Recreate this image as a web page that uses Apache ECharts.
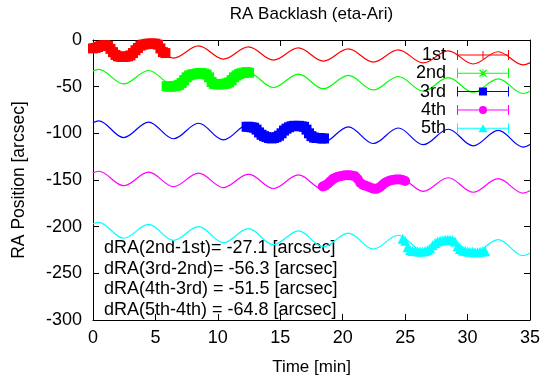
<!DOCTYPE html>
<html><head><meta charset="utf-8">
<script src="https://cdn.jsdelivr.net/npm/echarts@6/dist/echarts.min.js"></script>
<style>html,body{margin:0;padding:0;background:#fff}#c{width:546px;height:385px}</style>
</head><body><div id="c"></div>
<script>
const FONT = '"Liberation Sans", Arial, sans-serif';
const seriesNames = ['1st', '2nd', '3rd', '4th', '5th'];
const seriesColors = ['#ff0000', '#00ff00', '#0000ff', '#ff00ff', '#00ffff'];

// fitted curves: values read at the curve extrema (and the ends)
const fitTimes = [0, 0.45, 2.45, 4.45, 6.45, 8.45, 10.45, 12.45, 14.45, 16.45, 18.45, 20.45, 22.45, 24.45, 26.45, 28.45, 30.45, 32.45, 34.45, 35];
const fit1st = [-5.8, -4.3, -18.4, -5.3, -19.4, -6.4, -20.5, -7.4, -21.5, -8.4, -22.6, -9.5, -23.6, -10.5, -24.6, -11.6, -25.7, -12.6, -26.7, -24.5];
const fit2nd = [-33.1, -31.4, -47.1, -32.7, -48.4, -34.0, -49.6, -35.3, -50.9, -36.6, -52.2, -37.8, -53.5, -39.1, -54.8, -40.4, -56.0, -41.7, -57.3, -54.9];
const fit3rd = [-88.6, -86.6, -104.5, -87.9, -105.8, -89.2, -107.0, -90.5, -108.3, -91.8, -109.6, -93.0, -110.9, -94.3, -112.2, -95.6, -113.4, -96.9, -114.7, -111.9];
const fit4th = [-142.3, -140.6, -156.1, -141.6, -157.1, -142.6, -158.1, -143.6, -159.1, -144.6, -160.1, -145.6, -161.1, -146.6, -162.1, -147.6, -163.1, -148.6, -164.1, -161.6];
const fit5th = [-196.9, -195.3, -212.4, -197.6, -214.7, -199.9, -217.1, -202.2, -219.4, -204.5, -221.7, -206.9, -224.0, -209.2, -226.3, -211.5, -228.7, -213.8, -231.0, -228.5];

// measured points
const t1st = [0, 0.2, 0.4, 0.6, 0.8, 1.0, 1.2, 1.4, 1.6, 1.8, 2.0, 2.2, 2.4, 2.6, 2.8, 3.0, 3.2, 3.4, 3.6, 3.8, 4.0, 4.2, 4.4, 4.6, 4.8, 5.0, 5.2, 5.4, 5.6, 5.8];
const v1st = [-9.0, -8.5, -7.5, -6.5, -5.8, -5.5, -6.5, -9.5, -13, -16, -17.5, -18, -18, -18, -17.5, -16.5, -14, -11, -8.5, -6, -5, -4.5, -4, -3.8, -3.8, -4, -5, -9, -13, -14];
const t2nd = [5.9, 6.1, 6.3, 6.5, 6.7, 6.9, 7.1, 7.3, 7.5, 7.7, 7.9, 8.1, 8.3, 8.5, 8.7, 8.9, 9.1, 9.3, 9.5, 9.7, 9.9, 10.1, 10.3, 10.5, 10.7, 10.9, 11.1, 11.3, 11.5, 11.7, 11.9, 12.1, 12.3, 12.5];
const v2nd = [-49.5, -50, -50, -49.5, -49, -48, -46, -43, -40, -38, -37, -36.5, -36, -35.5, -35.5, -36, -37, -40, -45, -47, -47.5, -47.5, -47.5, -47, -46.5, -45.5, -43, -40, -38, -36.5, -35.5, -35, -34.5, -35];
const t3rd = [12.3, 12.5, 12.7, 12.9, 13.1, 13.3, 13.5, 13.7, 13.9, 14.1, 14.3, 14.5, 14.7, 14.9, 15.1, 15.3, 15.5, 15.7, 15.9, 16.1, 16.3, 16.5, 16.7, 16.9, 17.1, 17.3, 17.5, 17.7, 17.9, 18.1, 18.3, 18.5];
const v3rd = [-93, -93, -93.5, -94, -96, -99, -101.5, -103, -104, -105, -105.5, -105, -104, -102.5, -100, -97, -95, -93.5, -92.5, -92, -92, -92, -92.5, -93, -96, -100, -103, -104.5, -105, -105, -105.5, -105.5];
const t4th = [18.4, 18.6, 18.8, 19.0, 19.2, 19.4, 19.6, 19.8, 20.0, 20.2, 20.4, 20.6, 20.8, 21.0, 21.2, 21.4, 21.6, 21.8, 22.0, 22.2, 22.4, 22.6, 22.8, 23.0, 23.2, 23.4, 23.6, 23.8, 24.0, 24.2, 24.4, 24.6, 24.8, 25.0];
const v4th = [-157, -156, -154, -151.5, -149, -147.5, -146.5, -146, -145.5, -145, -145, -145, -145.5, -146, -149, -153, -155, -156, -157, -158, -159, -159.5, -159, -157.5, -155, -153, -151.5, -150.5, -150, -149.5, -149.5, -149.5, -150, -151];
const t5th = [24.8, 25.0, 25.2, 25.4, 25.6, 25.8, 26.0, 26.2, 26.4, 26.6, 26.8, 27.0, 27.2, 27.4, 27.6, 27.8, 28.0, 28.2, 28.4, 28.6, 28.8, 29.0, 29.2, 29.4, 29.6, 29.8, 30.0, 30.2, 30.4, 30.6, 30.8, 31.0, 31.2, 31.4];
const v5th = [-213, -215, -222, -225, -226, -226, -226.5, -226.5, -226.5, -226, -225, -223, -220, -217.5, -216, -215, -214.5, -214, -214, -214, -214.5, -216, -221, -224, -225.5, -226, -226.5, -227, -227, -227.5, -227.5, -227, -226.5, -226];

const dRALabels = ['dRA(2nd-1st)=', 'dRA(3rd-2nd)=', 'dRA(4th-3rd) =', 'dRA(5th-4th) ='];
const dRAValues = [-27.1, -56.3, -51.5, -64.8];

const fits = [fit1st, fit2nd, fit3rd, fit4th, fit5th];
const times = [t1st, t2nd, t3rd, t4th, t5th];
const vals = [v1st, v2nd, v3rd, v4th, v5th];
const symbols = ['rect', 'rect', 'rect', 'circle', 'triangle'];

const bar = 'M0,0 h1 v10 h-1 Z M51,0 h1 v10 h-1 Z M0,4.5 h52 v1 h-52 Z ';
const legendMarks = [
  'M25.5,1 h1 v8 h-1 Z',
  'M25.5,1 h1 v8 h-1 Z M22,2 L23,1.3 L30,8 L29,8.7 Z M29,1.3 L30,2 L23,8.7 L22,8 Z',
  'M22,1 h8 v8 h-8 Z',
  'M22,5 A4,4 0 1,1 30,5 A4,4 0 1,1 22,5 Z',
  'M26,1 L30.5,9 L21.5,9 Z'
];

const series = [];
for (let i = 0; i < 5; i++) {
  series.push({
    type: 'line', name: 'fit' + i, data: fitTimes.map((t, j) => [t, fits[i][j]]),
    smooth: 0.36, showSymbol: false, symbol: 'none', silent: true,
    lineStyle: { color: seriesColors[i], width: 1.2 }, z: 2, animation: false
  });
}
for (let i = 0; i < 5; i++) {
  series.push({
    type: 'scatter', name: seriesNames[i], data: times[i].map((t, j) => [t, vals[i][j]]),
    symbol: symbols[i], symbolSize: 10, clip: false,
    itemStyle: { color: seriesColors[i], opacity: 1 }, z: 3, animation: false
  });
}

const axisCommonX = { type: 'value', min: 0, max: 35, interval: 5 };
const axisCommonY = { type: 'value', min: -300, max: 0, interval: 50 };
const lineBlack = { show: true, onZero: false, lineStyle: { color: '#000', width: 1 } };
const tickIn = { show: true, inside: true, length: 6, lineStyle: { color: '#000', width: 1 } };
const FS = 18;

const chart = echarts.init(document.getElementById('c'), null, { renderer: 'canvas' });
chart.setOption({
  animation: false,
  backgroundColor: '#fff',
  title: { text: 'RA Backlash (eta-Ari)', left: 311.5, top: 6, textAlign: 'center', padding: 0,
    textStyle: { fontSize: 17, fontWeight: 'normal', color: '#000', fontFamily: FONT } },
  grid: { left: 93, right: 16, top: 40, bottom: 65, containLabel: false },
  legend: {
    data: seriesNames.map((n, i) => ({ name: n, icon: 'path://' + bar + legendMarks[i] })),
    orient: 'vertical', align: 'right', right: 37, top: 46, itemWidth: 52, itemHeight: 10,
    itemGap: 0.3, selectedMode: false, padding: 0,
    textStyle: { fontSize: FS, color: '#000', fontFamily: FONT, lineHeight: 18, padding: [0, 6, 0, 0] }
  },
  xAxis: [
    Object.assign({}, axisCommonX, { position: 'bottom', name: 'Time [min]', nameLocation: 'middle', nameGap: 39,
      nameTextStyle: { fontSize: 17, color: '#000', fontFamily: FONT },
      axisLine: lineBlack, axisTick: tickIn, splitLine: { show: false },
      axisLabel: { fontSize: FS, color: '#000', fontFamily: FONT, margin: 9 } }),
    Object.assign({}, axisCommonX, { position: 'top', axisLine: lineBlack, axisTick: tickIn,
      splitLine: { show: false }, axisLabel: { show: false } })
  ],
  yAxis: [
    Object.assign({}, axisCommonY, { position: 'left', name: 'RA Position [arcsec]', nameLocation: 'middle', nameGap: 65,
      nameTextStyle: { fontSize: 17.5, color: '#000', fontFamily: FONT },
      axisLine: lineBlack, axisTick: tickIn, splitLine: { show: false },
      axisLabel: { fontSize: FS, color: '#000', fontFamily: FONT, margin: 11 } }),
    Object.assign({}, axisCommonY, { position: 'right', axisLine: lineBlack, axisTick: tickIn,
      splitLine: { show: false }, axisLabel: { show: false } })
  ],
  graphic: dRALabels.map((l, i) => ({
    type: 'text', x: 104, y: 248.5 + i * 20.5, z: 1,
    style: { text: l + ' ' + dRAValues[i].toFixed(1) + ' [arcsec]', fontSize: FS, fontFamily: FONT,
      fill: '#000', verticalAlign: 'middle', align: 'left' }
  })),
  series: series
});
</script></body></html>
